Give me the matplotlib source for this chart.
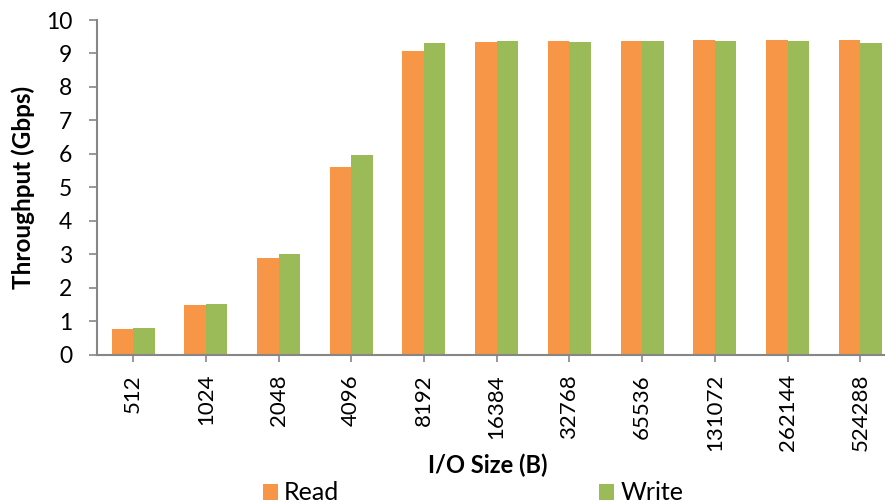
import numpy as np
import matplotlib
matplotlib.use("Agg")
import matplotlib.pyplot as plt

plt.rcParams['font.family'] = ['Lato', 'DejaVu Sans']

# tamaños de E/S y throughput medido (Gbps)
io_sizes = ['512', '1024', '2048', '4096', '8192', '16384', '32768',
            '65536', '131072', '262144', '524288']
read_gbps = [0.77, 1.48, 2.89, 5.62, 9.08, 9.35, 9.38, 9.37, 9.39, 9.39, 9.39]
write_gbps = [0.78, 1.51, 3.01, 5.95, 9.30, 9.37, 9.35, 9.36, 9.36, 9.36, 9.31]

orange = '#F79646'
green = '#9BBB59'
grey = '#868686'

fig = plt.figure(figsize=(8.85, 5.04), dpi=100)
# el eje se sale un poco por la derecha, como en la captura
ax = fig.add_axes([96.7 / 885, 149.5 / 504, 800 / 885, 334.5 / 504])

x = np.arange(len(io_sizes))
w = 0.296
ax.bar(x - w / 2, read_gbps, w, color=orange, label='Read', zorder=2)
ax.bar(x + w / 2, write_gbps, w, color=green, label='Write', zorder=2)

ax.set_xlim(-0.5, len(io_sizes) - 0.5)
ax.set_ylim(0, 10)
ax.set_yticks(range(0, 11))
ax.set_xticks(x)
ax.set_xticklabels(io_sizes, rotation=90)

for s in ['top', 'right']:
    ax.spines[s].set_visible(False)
for s in ['left', 'bottom']:
    ax.spines[s].set_color(grey)
    ax.spines[s].set_linewidth(1.5)

ax.tick_params(axis='y', direction='out', length=5.5, width=1.2, color=grey,
               labelsize=16.5, pad=12)
ax.tick_params(axis='x', direction='out', length=5, width=1.2, color=grey,
               labelsize=16, pad=9)

ax.set_ylabel('Throughput (Gbps)', fontsize=17.5, fontweight='bold', labelpad=8)
fig.text(488 / 885, 1 - 465 / 504, 'I/O Size (B)', fontsize=17,
         fontweight='bold', ha='center', va='center')

fig.legend(loc='center', bbox_to_anchor=(473 / 885, 1 - 493 / 504), ncol=2,
           frameon=False, fontsize=18, handlelength=0.6, handleheight=0.6,
           handletextpad=0.25, columnspacing=10.4, borderaxespad=0,
           borderpad=0)

plt.savefig('out.png', dpi=100)
